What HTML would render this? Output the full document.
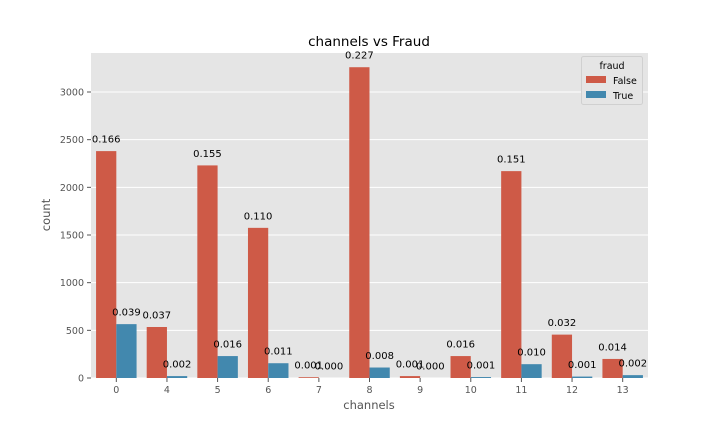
<!DOCTYPE html>
<html><head><meta charset="utf-8"><style>
body{margin:0;background:#fff;}
svg{font-family:"DejaVu Sans","Liberation Sans",sans-serif;}
</style></head><body>
<svg id="chart" width="720" height="432"></svg>
<script>
const categories=["0","4","5","6","7","8","9","10","11","12","13"];
const falseCounts=[2380,535,2230,1575,8,3260,20,230,2170,455,200];
const trueCounts=[565,20,230,155,0,110,0,10,145,15,30];
const falseLabels=["0.166","0.037","0.155","0.110","0.001","0.227","0.001","0.016","0.151","0.032","0.014"];
const trueLabels=["0.039","0.002","0.016","0.011","0.000","0.008","0.000","0.001","0.010","0.001","0.002"];
const yTicks=[0,500,1000,1500,2000,2500,3000];

const NS="http://www.w3.org/2000/svg";
const svg=document.getElementById('chart');
const L=91,R=648,T=53,B=378;
const bw=(R-L)/categories.length;
const y=v=>B-v*(B-92)/3000;
const xc=i=>L+bw*(i+0.5);
function mk(t,a,txt){const e=document.createElementNS(NS,t);for(const k in a)e.setAttribute(k,a[k]);if(txt!==undefined)e.textContent=txt;svg.appendChild(e);return e;}
let e;
e=mk('rect',{x:L,y:T,width:R-L,height:B-T,fill:'#e5e5e5'});

yTicks.forEach(v=>{
 e=mk('line',{x1:L,x2:R,y1:y(v),y2:y(v),stroke:'#fff','stroke-width':1});
 
 e=mk('line',{x1:L-4,x2:L,y1:y(v),y2:y(v),stroke:'#555'});
 
 e=mk('text',{x:L-7,y:y(v)+3.5,'font-size':9.5,'text-anchor':'end',fill:'#555'},v);
 
});
const w=bw*0.4;
categories.forEach((c,i)=>{
 const cx=xc(i);
 e=mk('rect',{x:cx-w,y:y(falseCounts[i]),width:w,height:B-y(falseCounts[i]),fill:'#ce5a47'});
 
 e=mk('rect',{x:cx,y:y(trueCounts[i]),width:w,height:B-y(trueCounts[i]),fill:'#4288ae'});
 
 e=mk('text',{x:cx-w/2,y:y(falseCounts[i])-8.5,'font-size':10,'text-anchor':'middle',fill:'#000'},falseLabels[i]);
 
 e=mk('text',{x:cx+w/2,y:y(trueCounts[i])-8.5,'font-size':10,'text-anchor':'middle',fill:'#000'},trueLabels[i]);
 
 e=mk('line',{x1:cx,x2:cx,y1:B,y2:B+4,stroke:'#555'});
 
 e=mk('text',{x:cx,y:B+15,'font-size':9.5,'text-anchor':'middle',fill:'#555'},c);
 
});
e=mk('text',{x:369,y:46,'font-size':13.5,'text-anchor':'middle',fill:'#000'},'channels vs Fraud');

e=mk('text',{x:369,y:409,'font-size':11.5,'text-anchor':'middle',fill:'#555'},'channels');

e=mk('text',{x:50,y:215,'font-size':11.5,'text-anchor':'middle',fill:'#555',transform:'rotate(-90 50 215)'},'count');

e=mk('rect',{x:581.5,y:56.5,width:61,height:48,fill:'#e5e5e5',stroke:'#d0d0d0',rx:2});

e=mk('text',{x:612,y:69,'font-size':9.5,'text-anchor':'middle',fill:'#000'},'fraud');

e=mk('rect',{x:586,y:76,width:20,height:7,fill:'#ce5a47'});

e=mk('text',{x:613,y:84,'font-size':9.5,fill:'#000'},'False');

e=mk('rect',{x:586,y:91,width:20,height:7,fill:'#4288ae'});

e=mk('text',{x:613,y:99,'font-size':9.5,fill:'#000'},'True');

</script>
</body></html>
